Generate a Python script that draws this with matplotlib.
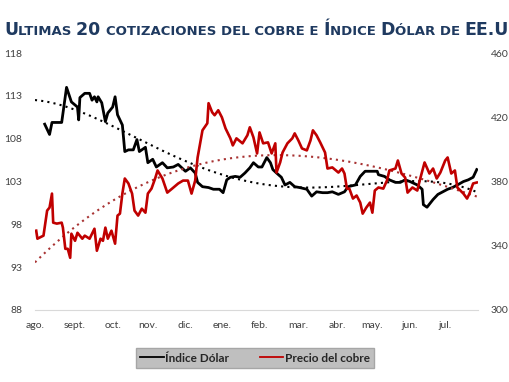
import numpy as np
import matplotlib
matplotlib.use('Agg')
from matplotlib import pyplot as plt
from matplotlib.lines import Line2D

# dias desde el inicio del eje (ago.)
dolar_dias = [8, 12, 14, 22, 26, 30, 35, 36, 37, 41, 45, 47, 49, 51, 52, 55, 58, 60,
              64, 66, 68, 72, 74, 77, 81, 84, 86, 91, 93, 97, 100, 105, 109, 114, 118,
              124, 128, 132, 134, 138, 143, 147, 152, 155, 158, 161, 165, 169, 173, 177,
              180, 184, 187, 191, 194, 196, 199, 203, 206, 210, 214, 218, 224, 228, 232,
              237, 241, 245, 250, 255, 258, 264, 268, 272, 278, 282, 283, 288, 292, 297,
              301, 305, 309, 315, 319, 320, 323, 328, 332, 336, 340, 344, 348, 353, 357,
              361, 364]
dolar = [109.7, 108.5, 109.9, 109.9, 114.0, 112.3, 111.7, 110.2, 112.8, 113.3, 113.3,
         112.5, 112.9, 112.3, 112.9, 112.2, 110.0, 111.0, 111.7, 112.9, 110.8, 109.6,
         106.5, 106.7, 106.7, 107.9, 106.5, 107.0, 105.2, 105.6, 104.7, 105.2, 104.6,
         104.7, 105.0, 104.2, 104.6, 104.0, 102.9, 102.4, 102.3, 102.1, 102.1, 101.7,
         103.2, 103.5, 103.6, 103.5, 104.0, 104.6, 105.2, 104.7, 104.7, 105.8, 105.2,
         104.4, 104.0, 103.5, 102.6, 102.9, 102.4, 102.3, 102.1, 101.3, 101.8, 101.7,
         101.7, 101.8, 101.5, 101.8, 102.4, 102.6, 103.6, 104.2, 104.2, 104.2, 103.8,
         103.6, 103.2, 102.9, 102.9, 103.2, 103.0, 102.6, 102.1, 100.3, 100.0, 100.9,
         101.5, 101.8, 102.1, 102.3, 102.6, 103.0, 103.2, 103.5, 104.4]

cobre_dias = [1, 2, 7, 10, 12, 14, 15, 18, 22, 23, 25, 27, 29, 30, 33, 35, 39, 41, 45,
              49, 51, 54, 56, 58, 60, 63, 66, 68, 70, 72, 74, 77, 80, 82, 85, 88, 91, 93,
              96, 99, 101, 105, 109, 113, 118, 122, 126, 129, 132, 134, 138, 142, 143,
              146, 148, 151, 154, 157, 161, 163, 166, 171, 175, 177, 180, 183, 185, 188,
              192, 195, 198, 199, 202, 204, 208, 212, 214, 217, 220, 224, 227, 229, 232,
              235, 239, 241, 245, 250, 253, 255, 257, 259, 262, 265, 268, 270, 273, 276,
              278, 280, 283, 287, 290, 292, 297, 299, 302, 305, 307, 311, 315, 317, 321,
              325, 328, 331, 334, 338, 340, 343, 346, 348, 353, 356, 358, 361, 364]
cobre = [349.4, 344.4, 346.3, 361.9, 363.8, 372.5, 354.4, 353.8, 354.4, 351.3, 338.1,
         338.1, 332.5, 347.5, 343.1, 348.1, 344.4, 346.3, 344.4, 350.6, 336.9, 344.4,
         343.1, 351.3, 344.4, 349.4, 341.3, 358.8, 360.0, 372.5, 381.9, 378.8, 372.5,
         361.9, 358.8, 363.1, 360.6, 372.5, 375.6, 381.9, 386.9, 381.9, 373.1, 375.6,
         378.8, 380.6, 380.6, 372.5, 380.6, 395.0, 411.9, 416.3, 428.8, 423.1, 421.3,
         424.4, 420.0, 413.1, 406.9, 402.5, 406.9, 403.8, 408.8, 413.8, 407.5, 397.5,
         410.6, 403.8, 404.4, 397.5, 403.8, 385.6, 391.9, 398.1, 403.8, 406.9, 410.0,
         405.6, 400.6, 399.4, 405.6, 411.9, 408.8, 404.4, 398.1, 388.1, 388.8, 385.6,
         388.1, 385.0, 375.6, 375.6, 369.4, 371.3, 366.9, 360.0, 363.8, 366.9, 360.6,
         374.4, 376.3, 375.6, 380.6, 386.9, 388.1, 393.1, 385.0, 382.5, 373.1, 376.3,
         374.4, 380.6, 391.9, 385.0, 388.1, 381.9, 385.6, 393.1, 395.0, 385.0, 386.9,
         376.3, 372.5, 369.4, 372.5, 378.8, 379.4]

meses = ['ago.', 'sept.', 'oct.', 'nov.', 'dic.', 'ene.', 'feb.', 'mar.', 'abr.',
         'may.', 'jun.', 'jul.']
meses_pos = [0, 33, 64, 93, 124, 154, 185, 217, 249, 278, 309, 338]

rojo = '#c00000'
gris = '#404040'
fuente = 'Lato'

fig = plt.figure(figsize=(5.1, 3.82), dpi=100)
ax1 = fig.add_axes([0.0686, 0.1885, 0.8686, 0.6725])
ax2 = ax1.twinx()

# lineas de tendencia polinomicas (como en Excel)
t = np.arange(0, 366)
ax1.plot(t, np.polyval(np.polyfit(dolar_dias, dolar, 4), t), color='black',
         linestyle=(0, (1, 2)), lw=1.5)
ax2.plot(t, np.polyval(np.polyfit(cobre_dias, cobre, 3), t), color='#a83232',
         linestyle=(0, (1, 2)), lw=1.5)

ax1.plot(dolar_dias, dolar, color='black', lw=2)
ax2.plot(cobre_dias, cobre, color=rojo, lw=1.9)

ax1.set_xlim(0, 365)
ax1.set_ylim(88, 118)
ax1.set_yticks(range(88, 119, 5))
ax2.set_ylim(300, 460)
ax2.set_yticks(range(300, 461, 40))
ax1.set_xticks(meses_pos)
ax1.set_xticklabels(meses)

for ax in (ax1, ax2):
    for s in ax.spines.values():
        s.set_visible(False)
    ax.tick_params(length=0, labelsize=7.5, labelcolor=gris)
    for lab in ax.get_xticklabels() + ax.get_yticklabels():
        lab.set_family(fuente)
ax1.spines['bottom'].set_visible(True)
ax1.spines['bottom'].set_color('#d9d9d9')
ax1.tick_params(axis='y', pad=9)
ax1.tick_params(axis='x', pad=8)
ax2.tick_params(axis='y', pad=9)

handles = [Line2D([], [], color='black', lw=1.3), Line2D([], [], color=rojo, lw=1.3)]
leg = fig.legend(handles, ['Índice Dólar', 'Precio del cobre'], loc='center',
                 bbox_to_anchor=(0.5, 1 - 358 / 382), ncol=2, frameon=True,
                 fancybox=False, facecolor='#bfbfbf', edgecolor='#a6a6a6',
                 prop=dict(family=fuente, weight='bold', size=8.5),
                 handlelength=2.0, handletextpad=0.1, columnspacing=2.6,
                 borderpad=0.4)
leg.get_frame().set_alpha(1)
for txt in leg.get_texts():
    txt.set_color('#262626')

# titulo en versalitas
azul = '#1f3a60'
partes = [('U', 12.5), ('LTIMAS ', 9.5), ('20 ', 12.5), ('COTIZACIONES DEL COBRE E ', 9.5),
          ('Í', 12.5), ('NDICE ', 9.5), ('D', 12.5), ('ÓLAR DE ', 9.5), ('EE.UU', 12.5)]
renderer = fig.canvas.get_renderer()
x = 4
for texto, tam in partes:
    tt = fig.text(x / 510, 1 - 35 / 382, texto, fontsize=tam, fontweight='bold',
                  color=azul, family='DejaVu Sans', va='baseline', ha='left')
    x += tt.get_window_extent(renderer).width

fig.savefig('out.png', dpi=100)
